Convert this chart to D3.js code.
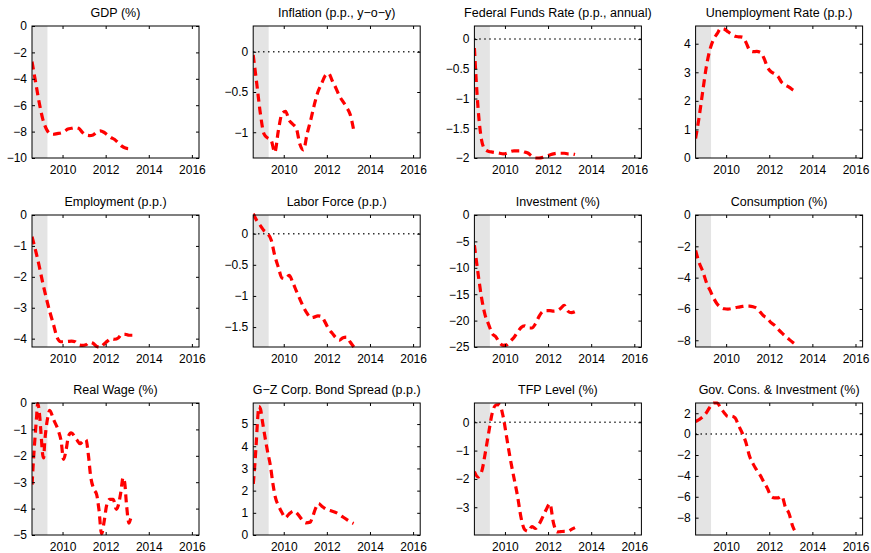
<!DOCTYPE html>
<html>
<head>
<meta charset="utf-8">
<script src="https://cdn.jsdelivr.net/npm/d3@7"></script>
<style>
  html, body { margin: 0; padding: 0; background: #fff; }
  svg { display: block; }
  text { font-family: "Liberation Sans", Arial, Helvetica, sans-serif; fill: #000; }
</style>
</head>
<body>
<script>
// Sample dates (fractional years, two-month spacing)
const dates = [2008.583, 2008.75, 2008.917, 2009.083, 2009.25, 2009.417, 2009.583, 2009.75,
  2009.917, 2010.083, 2010.25, 2010.417, 2010.583, 2010.75, 2010.917, 2011.083, 2011.25,
  2011.417, 2011.583, 2011.75, 2011.917, 2012.083, 2012.25, 2012.417, 2012.583, 2012.75,
  2012.917, 2013.083, 2013.25];

const xRange = [2008.583, 2016.33];
const xTicks = [2010, 2012, 2014, 2016];
const recession = [2008.583, 2009.3];

const gdp = [-2.7, -4.25, -5.8, -7.05, -7.8, -8.15, -8.2, -8.15, -8.1, -8.0, -7.8, -7.75, -7.7,
  -7.75, -8.05, -8.25, -8.3, -8.25, -8.05, -7.95, -8.05, -8.25, -8.45, -8.6, -8.85, -9.1, -9.25, -9.3, -9.3];
const inflation = [-0.04, -0.4, -0.77, -1.02, -1.07, -1.1, -1.25, -0.98, -0.77, -0.74, -0.85, -0.9,
  -0.95, -1.15, -1.22, -1.02, -0.85, -0.66, -0.5, -0.4, -0.3, -0.27, -0.36, -0.45, -0.55, -0.62, -0.69, -0.78, -0.98];
const fedFunds = [-0.15, -1.15, -1.7, -1.86, -1.89, -1.9, -1.91, -1.92, -1.93, -1.92, -1.89, -1.88,
  -1.88, -1.88, -1.9, -1.92, -1.97, -2.0, -2.0, -1.99, -1.97, -1.95, -1.93, -1.92, -1.92, -1.92, -1.93, -1.93, -1.94];
const unemployment = [0.68, 1.45, 2.35, 3.2, 3.8, 4.15, 4.35, 4.53, 4.51, 4.42, 4.33, 4.26, 4.24,
  4.23, 4.05, 3.78, 3.72, 3.73, 3.7, 3.5, 3.18, 3.02, 2.95, 2.84, 2.64, 2.55, 2.48, 2.39, 2.31];
const employment = [-0.7, -1.15, -1.65, -2.2, -2.7, -3.15, -3.55, -3.97, -4.1, -4.1, -4.09, -4.08,
  -4.1, -4.2, -4.22, -4.2, -4.12, -4.15, -4.25, -4.28, -4.18, -4.08, -4.0, -4.02, -3.98, -3.86, -3.86, -3.89, -3.89];
const laborForce = [0.32, 0.21, 0.13, 0.05, 0.0, -0.1, -0.35, -0.54, -0.71, -0.72, -0.67, -0.78,
  -0.92, -1.05, -1.18, -1.28, -1.35, -1.34, -1.32, -1.33, -1.42, -1.53, -1.6, -1.67, -1.71, -1.67, -1.66, -1.74, -1.82];
const investment = [-5.7, -11, -15.7, -19, -20.8, -22.5, -23.1, -24.2, -24.7, -24.6, -23.9, -23.2,
  -22.2, -21.3, -21, -21.4, -21.4, -20.6, -19.2, -18.3, -18.1, -18.1, -18.2, -18.1, -17.7, -17.1, -18.2, -18.5, -18.3];
const consumption = [-2.27, -3.05, -3.6, -4.3, -4.8, -5.3, -5.68, -5.9, -5.99, -6.01, -5.98, -5.92,
  -5.88, -5.84, -5.82, -5.82, -5.86, -5.95, -6.2, -6.45, -6.6, -6.88, -7.05, -7.3, -7.53, -7.74, -7.94, -8.13, -8.3];
const tfp = [-1.74, -1.93, -1.75, -1.1, -0.35, 0.35, 0.61, 0.62, 0.2, -0.55, -1.3, -1.96, -2.6,
  -3.38, -3.79, -3.85, -3.68, -3.75, -3.6, -3.35, -3.08, -2.87, -3.55, -3.87, -3.86, -3.85, -3.85, -3.78, -3.72];
const govSpending = [1.2, 1.4, 1.65, 2.05, 2.6, 2.98, 2.98, 2.5, 2.03, 1.68, 1.72, 1.55, 0.8, 0.1,
  -0.8, -2.1, -2.85, -3.45, -3.95, -4.6, -5.2, -5.95, -6.1, -6.1, -5.94, -7.0, -7.6, -8.8, -9.5];

// Real wage and spread are sampled on their own, denser dates
const realWageDates = [2008.587, 2008.633, 2008.71, 2008.786, 2008.848, 2008.94, 2009.0, 2009.078,
  2009.124, 2009.17, 2009.232, 2009.324, 2009.4, 2009.585, 2009.815, 2009.937, 2010.045, 2010.168,
  2010.275, 2010.398, 2010.659, 2010.812, 2010.935, 2011.088, 2011.196, 2011.303, 2011.457, 2011.58,
  2011.687, 2011.81, 2011.933, 2012.04, 2012.193, 2012.347, 2012.5, 2012.577, 2012.7, 2012.807,
  2012.884, 2012.96, 2013.083, 2013.2, 2013.28];
const realWage = [-3.09, -2.4, -1.45, -0.63, -0.02, -0.5, -1.13, -1.95, -2.08, -1.51, -1.0, -0.5,
  -0.28, -0.63, -1.07, -1.45, -2.14, -1.76, -1.26, -1.13, -1.39, -1.54, -1.45, -1.39, -1.95, -2.77,
  -3.27, -3.46, -4.03, -4.95, -4.47, -3.9, -3.65, -3.65, -4.03, -3.9, -3.4, -2.83, -3.02, -3.78,
  -4.55, -4.28, -4.24];
const spreadDates = [2008.587, 2008.664, 2008.725, 2008.786, 2008.848, 2008.925, 2009.0, 2009.124,
  2009.232, 2009.385, 2009.492, 2009.615, 2009.769, 2009.922, 2010.076, 2010.229, 2010.459, 2010.659,
  2010.843, 2011.027, 2011.227, 2011.334, 2011.457, 2011.61, 2011.764, 2011.994, 2012.224, 2012.454,
  2012.685, 2012.915, 2013.176, 2013.24];
const gzSpread = [2.3, 3.25, 4.15, 5.19, 5.8, 5.67, 5.19, 4.45, 3.85, 3.1, 2.35, 1.68, 1.3, 1.0,
  0.78, 0.93, 1.08, 0.93, 0.7, 0.55, 0.58, 0.8, 1.15, 1.42, 1.3, 1.15, 1.08, 1.0, 0.85, 0.7, 0.55, 0.52];

const titles = ["GDP (%)", "Inflation (p.p., y\u2212o\u2212y)", "Federal Funds Rate (p.p., annual)",
  "Unemployment Rate (p.p.)", "Employment (p.p.)", "Labor Force (p.p.)", "Investment (%)",
  "Consumption (%)", "Real Wage (%)", "G\u2212Z Corp. Bond Spread (p.p.)", "TFP Level (%)",
  "Gov. Cons. & Investment (%)"];

const yRanges = [[-10, 0], [-1.32, 0.32], [-2, 0.22], [0, 4.62], [-4.27, 0], [-1.82, 0.3],
  [-25, 0], [-8.43, 0], [-5, 0], [0, 5.95], [-3.98, 0.68], [-9.66, 2.98]];

const yTicks = [
  [-10, -8, -6, -4, -2, 0], [-1, -0.5, 0], [-2, -1.5, -1, -0.5, 0], [0, 1, 2, 3, 4],
  [-4, -3, -2, -1, 0], [-1.5, -1, -0.5, 0], [-25, -20, -15, -10, -5, 0], [-8, -6, -4, -2, 0],
  [-5, -4, -3, -2, -1, 0], [0, 1, 2, 3, 4, 5], [-3, -2, -1, 0], [-8, -6, -4, -2, 0, 2]];

const seriesX = [dates, dates, dates, dates, dates, dates, dates, dates, realWageDates, spreadDates, dates, dates];
const seriesY = [gdp, inflation, fedFunds, unemployment, employment, laborForce, investment,
  consumption, realWage, gzSpread, tfp, govSpending];

// Layout
const W = 871, H = 553;
const plotW = 167, plotH = 132;
const colLeft = c => 32 + c * 221.2;
const rowTop = [26, 215, 403];

const fmt = d => d === 0 ? "0" : (d < 0 ? "\u2212" : "") + Math.abs(d);

const svg = d3.select("body").append("svg").attr("width", W).attr("height", H);

titles.forEach((title, i) => {
  const c = i % 4, r = Math.floor(i / 4);
  const g = svg.append("g").attr("transform", `translate(${colLeft(c)},${rowTop[r]})`);
  const x = d3.scaleLinear().domain(xRange).range([0, plotW]);
  const y = d3.scaleLinear().domain(yRanges[i]).range([plotH, 0]);

  const clipId = "clip" + i;
  g.append("clipPath").attr("id", clipId)
    .append("rect").attr("x", 0).attr("y", -2).attr("width", plotW).attr("height", plotH + 4);

  // shaded recession band
  g.append("rect")
    .attr("x", x(recession[0])).attr("y", 0)
    .attr("width", x(recession[1]) - x(recession[0])).attr("height", plotH)
    .attr("fill", "#e4e4e4");

  // dotted zero reference
  const [y0, y1] = yRanges[i];
  if (y0 < 0 && y1 > 0) {
    g.append("line")
      .attr("x1", 0).attr("x2", plotW).attr("y1", y(0)).attr("y2", y(0))
      .attr("stroke", "#000").attr("stroke-width", 1.5).attr("stroke-dasharray", "1.2,3.8");
  }

  // series
  const xs = seriesX[i], ys = seriesY[i];
  const line = d3.line().curve(d3.curveMonotoneX).x((d, k) => x(xs[k])).y(d => y(d));
  g.append("path")
    .datum(ys)
    .attr("clip-path", `url(#${clipId})`)
    .attr("d", line)
    .attr("fill", "none")
    .attr("stroke", "#ff0000")
    .attr("stroke-width", 3.2)
    .attr("stroke-dasharray", "8,5");

  // axes with inward ticks on all sides
  const tick = 3;
  const left = g.append("g").call(d3.axisLeft(y).tickValues(yTicks[i]).tickFormat(fmt)
    .tickSize(-tick).tickPadding(5));
  const right = g.append("g").attr("transform", `translate(${plotW},0)`)
    .call(d3.axisRight(y).tickValues(yTicks[i]).tickFormat("").tickSize(-tick));
  const bottom = g.append("g").attr("transform", `translate(0,${plotH})`)
    .call(d3.axisBottom(x).tickValues(xTicks).tickFormat(d3.format("d"))
      .tickSize(-tick).tickPadding(7));
  const top = g.append("g")
    .call(d3.axisTop(x).tickValues(xTicks).tickFormat("").tickSize(-tick));
  [left, right, bottom, top].forEach(a => {
    a.select(".domain").remove();
    a.selectAll("text").attr("font-size", 12).attr("font-family", null);
    a.attr("font-family", null);
  });

  g.append("rect").attr("width", plotW).attr("height", plotH)
    .attr("fill", "none").attr("stroke", "#000").attr("stroke-width", 1);

  g.append("text")
    .attr("x", plotW / 2).attr("y", -9)
    .attr("text-anchor", "middle")
    .attr("font-size", 12.5)
    .text(title);
});
</script>
</body>
</html>
